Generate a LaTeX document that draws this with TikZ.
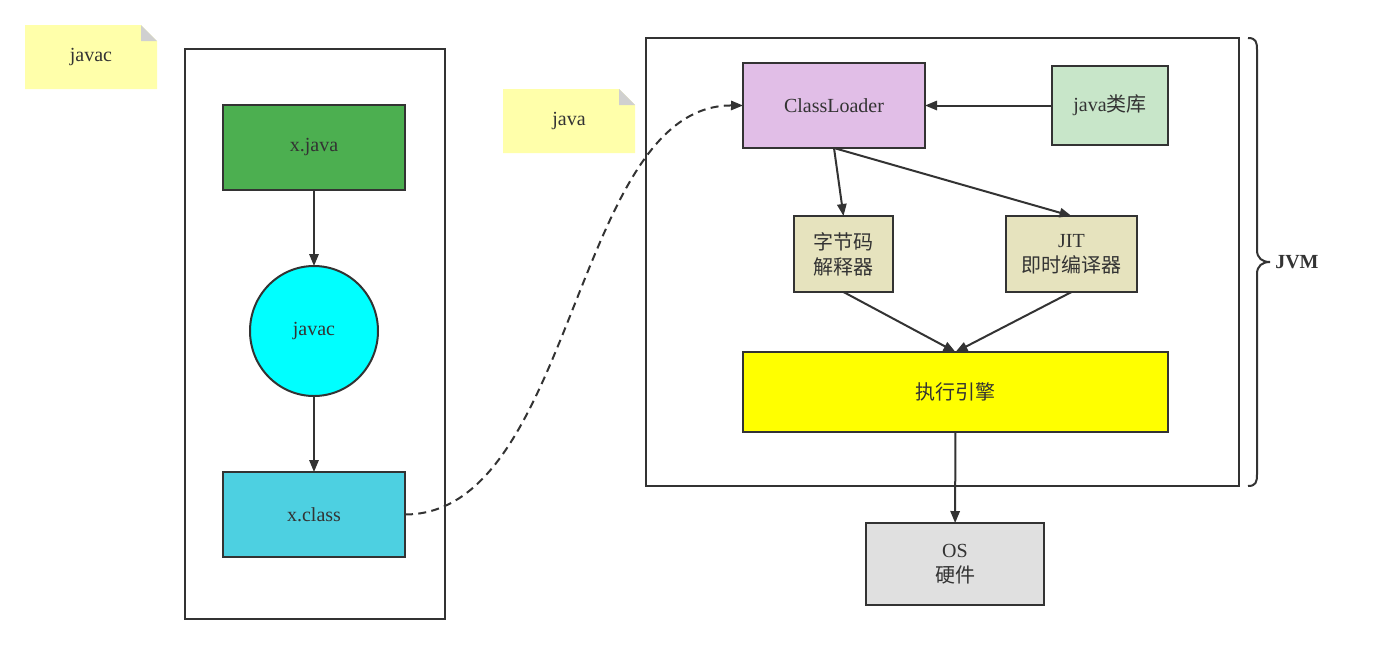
\documentclass[tikz,border=0pt]{standalone}
\usepackage{fontspec}
\setmainfont{Liberation Serif}
\newfontfamily\cjk{Noto Sans CJK SC}
\usetikzlibrary{arrows.meta,shapes.geometric}
\definecolor{ink}{HTML}{333333}
\definecolor{note}{HTML}{FFFFAA}
\definecolor{fold}{HTML}{D0D0D0}
\definecolor{cjava}{HTML}{4CAF50}
\definecolor{cjavac}{HTML}{00FFFF}
\definecolor{cclass}{HTML}{4DD0E1}
\definecolor{cloader}{HTML}{E1BEE7}
\definecolor{clib}{HTML}{C8E6C9}
\definecolor{cinterp}{HTML}{E6E3BE}
\definecolor{cexec}{HTML}{FFFF00}
\definecolor{cos}{HTML}{E0E0E0}
\tikzset{
  box/.style={draw=ink,line width=1.5pt,inner sep=0pt,outer sep=0pt,text=ink,font=\fontsize{15pt}{18.75pt}\selectfont,align=center},
  frame/.style={draw=ink,line width=1.5pt,inner sep=0pt,outer sep=0pt},
  conn/.style={draw=ink,line width=1.5pt,-{Triangle[length=9pt,width=7pt]}},
  notetext/.style={text=ink,font=\fontsize{15pt}{18.75pt}\selectfont,inner sep=0pt}
}
\begin{document}
\begin{tikzpicture}[x=0.75pt,y=-0.75pt]
\useasboundingbox (0,0) rectangle (1375,644);
% notes
\fill[note] (25,25) -- (141,25) -- (157,41) -- (157,89) -- (25,89) -- cycle;
\fill[fold] (141,25) -- (157,41) -- (141,41) -- cycle;
\node[notetext] (n1) at (91,57) {javac};
\fill[note] (503,89) -- (619,89) -- (635,105) -- (635,153) -- (503,153) -- cycle;
\fill[fold] (619,89) -- (635,105) -- (619,105) -- cycle;
\node[notetext] (n2) at (569,121) {java};
% frames
\node[frame,minimum width=195pt,minimum height=427.5pt] (lf) at (315,334) {};
\node[frame,minimum width=444.75pt,minimum height=336pt] (jf) at (942.5,262) {};
% left chain
\node[box,fill=cjava,minimum width=136.5pt,minimum height=63.75pt] (xj) at (314,147.5) {x.java};
\node[box,ellipse,fill=cjavac,minimum width=96pt,minimum height=97.5pt] (jc) at (314,331) {javac};
\node[box,fill=cclass,minimum width=136.5pt,minimum height=63.75pt] (xc) at (314,514.5) {x.class};
% JVM
\node[box,fill=cloader,minimum width=136.5pt,minimum height=63.75pt] (cl) at (834,105.5) {ClassLoader};
\node[box,fill=clib,minimum width=87pt,minimum height=59.25pt] (lib) at (1110,105.5) {java{\cjk 类库}};
\node[box,fill=cinterp,minimum width=74.25pt,minimum height=57pt] (bc) at (843.5,254) {{\cjk 字节码}\\{\cjk 解释器}};
\node[box,fill=cinterp,minimum width=98.25pt,minimum height=57pt] (jit) at (1071.5,254) {JIT\\{\cjk 即时编译器}};
\node[box,fill=cexec,minimum width=318.75pt,minimum height=60pt] (ex) at (955.5,392) {\cjk 执行引擎};
\node[box,fill=cos,minimum width=133.5pt,minimum height=61.5pt] (os) at (955,564) {OS\\{\cjk 硬件}};
% connectors
\draw[conn] (xj) -- (jc);
\draw[conn] (jc) -- (xc);
\draw[conn,dashed,dash pattern=on 6pt off 4pt] (xc.east) .. controls (575,514) and (573,105) .. (cl.west);
\draw[conn] (lib) -- (cl);
\draw[conn] (cl.south) -- (bc.north);
\draw[conn] (cl.south) -- (jit.north);
\draw[conn] (bc.south) -- (ex.north);
\draw[conn] (jit.south) -- (ex.north);
\draw[conn] (ex) -- (os);
% brace
\coordinate (bt) at (1248,38);
\coordinate (bb) at (1248,486);
\coordinate (bm) at (1270,262);
\draw[ink,line width=1.5pt] (bt) .. controls (1256,38) and (1257,42) .. (1257,50) -- (1257,250) .. controls (1257,258) and (1262,262) .. (bm)
  .. controls (1262,262) and (1257,266) .. (1257,274) -- (1257,474) .. controls (1257,482) and (1256,486) .. (bb);
\node[text=ink,font=\fontsize{15pt}{18pt}\selectfont\bfseries,anchor=west,inner sep=0pt] (jvm) at (1275,262) {JVM};
\end{tikzpicture}
\end{document}
